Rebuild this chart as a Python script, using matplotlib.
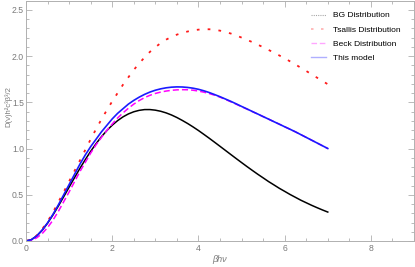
#!/usr/bin/env python

import matplotlib.pyplot as plt
import matplotlib
from matplotlib.lines import Line2D
from matplotlib.ticker import MultipleLocator, FormatStrFormatter

matplotlib.rcParams['font.family'] = ['Liberation Sans', 'DejaVu Sans']

# sample grid of beta h nu, step 0.125 from 0 to 7
x = [i * 0.125 for i in range(57)]

bg = [0.0, 0.0147, 0.0553, 0.1159, 0.1927, 0.2812, 0.3777, 0.4789,
      0.5820, 0.6845, 0.7843, 0.8797, 0.9693, 1.0521, 1.1272, 1.1941,
      1.2521, 1.3014, 1.3420, 1.3738, 1.3971, 1.4125, 1.4207, 1.4209,
      1.4144, 1.4025, 1.3850, 1.3623, 1.3349, 1.3036, 1.2700, 1.2333,
      1.1945, 1.1531, 1.1110, 1.0676, 1.0237, 0.9796, 0.9354, 0.8914,
      0.8480, 0.805, 0.7632, 0.722, 0.6828, 0.643, 0.6068, 0.570,
      0.5368, 0.503, 0.4721, 0.441, 0.4135, 0.386, 0.3605, 0.336, 0.3129]

tsallis = [0.0, 0.015, 0.06, 0.128, 0.21, 0.31, 0.42, 0.53,
           0.645, 0.757, 0.87, 0.985, 1.10, 1.21, 1.315, 1.415,
           1.51, 1.60, 1.69, 1.77, 1.85, 1.92, 1.985, 2.045,
           2.095, 2.14, 2.177, 2.207, 2.231, 2.25, 2.265, 2.277,
           2.285, 2.289, 2.289, 2.284, 2.274, 2.26, 2.243, 2.222,
           2.199, 2.175, 2.15, 2.123, 2.095, 2.066, 2.037, 2.006,
           1.975, 1.942, 1.908, 1.873, 1.838, 1.802, 1.766, 1.73, 1.695]

beck = [0.0, 0.007, 0.035, 0.08, 0.145, 0.225, 0.32, 0.425,
        0.53, 0.64, 0.75, 0.85, 0.95, 1.04, 1.12, 1.195,
        1.265, 1.33, 1.385, 1.435, 1.48, 1.518, 1.55, 1.575,
        1.595, 1.61, 1.621, 1.629, 1.634, 1.636, 1.635, 1.63,
        1.621, 1.609, 1.594, 1.576, 1.555, 1.531, 1.505, 1.479,
        1.452, 1.426, 1.399, 1.372, 1.345, 1.318, 1.29, 1.263,
        1.235, 1.208, 1.18, 1.15, 1.12, 1.09, 1.06, 1.03, 1.00]

model = [0.0, 0.014, 0.055, 0.118, 0.196, 0.288, 0.39, 0.50,
         0.61, 0.72, 0.83, 0.93, 1.02, 1.10, 1.18, 1.25,
         1.32, 1.38, 1.43, 1.48, 1.52, 1.555, 1.585, 1.61,
         1.63, 1.645, 1.656, 1.663, 1.666, 1.665, 1.66, 1.652,
         1.64, 1.624, 1.605, 1.583, 1.56, 1.535, 1.51, 1.483,
         1.455, 1.428, 1.40, 1.373, 1.345, 1.318, 1.29, 1.263,
         1.235, 1.208, 1.18, 1.15, 1.12, 1.09, 1.06, 1.03, 1.00]

labels = ["BG Distribution", "Tsallis Distribution", "Beck Distribution",
          "This model"]

gray = "#b0b0b0"
tgray = "#7a7a7a"
red_dots = (0, (1.5, 4.5))
mag_dash = (0, (4, 2))

fig = plt.figure(figsize=(4.15, 2.67), dpi=100)
ax = fig.add_axes([26 / 415, 26 / 267, 388 / 415, 240.5 / 267])

ax.plot(x, bg, color="black", lw=1.1)
ax.plot(x, tsallis, color="#ff1a1a", lw=1.3, linestyle=red_dots)
ax.plot(x, beck, color="#ff00ff", lw=1.1, linestyle=mag_dash)
ax.plot(x, model, color="#1a1aff", lw=1.2)

ax.set_xlim(0, 9)
ax.set_ylim(0, 2.6)
ax.xaxis.set_major_locator(MultipleLocator(2))
ax.xaxis.set_minor_locator(MultipleLocator(0.5))
ax.yaxis.set_major_locator(MultipleLocator(0.5))
ax.yaxis.set_minor_locator(MultipleLocator(0.1))
ax.yaxis.set_major_formatter(FormatStrFormatter("%.1f"))

ax.tick_params(which="both", direction="in", color=gray, labelcolor=tgray,
               labelsize=6.2, top=True, right=True, width=0.6)
ax.tick_params(which="major", length=4, pad=1.5)
ax.tick_params(which="minor", length=2)
ax.tick_params(axis="x", which="major", pad=2.5)
for s in ax.spines.values():
    s.set_color(gray)
    s.set_linewidth(0.7)

ax.set_xlabel("βhν", fontsize=6.5, color=tgray, style="italic", labelpad=1)
ax.set_ylabel("D(ν)h²c³β³/2", fontsize=5.5, color=tgray)
ax.yaxis.set_label_coords(-0.036, 0.56)

handles = [
    Line2D([], [], color="black", lw=0.8, alpha=0.35, linestyle=(0, (1, 1))),
    Line2D([], [], color="#ff1a1a", lw=1.2, alpha=0.35, linestyle=red_dots),
    Line2D([], [], color="#ff00ff", lw=1.0, alpha=0.35, linestyle=mag_dash),
    Line2D([], [], color="#1a1aff", lw=1.0, alpha=0.35),
]
ax.legend(handles, labels, loc="upper right", bbox_to_anchor=(0.985, 0.985),
          frameon=False, fontsize=6, handlelength=1.9, handletextpad=0.8,
          labelspacing=0.75)

plt.savefig("out.png", dpi=100)
